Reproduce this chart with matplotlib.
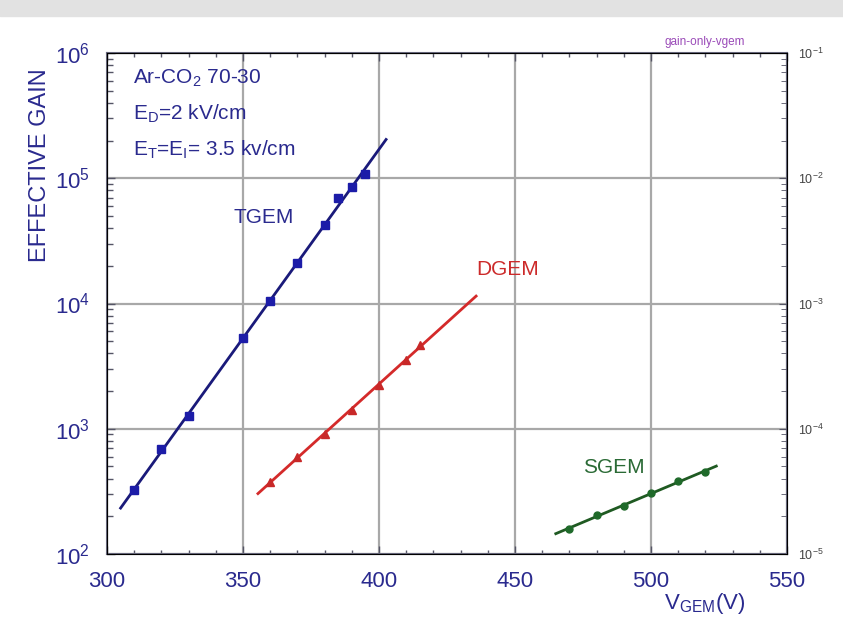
import numpy as np
import matplotlib
matplotlib.use("Agg")
import matplotlib.pyplot as plt
from matplotlib.ticker import FixedLocator, FuncFormatter, NullFormatter

plt.rcParams['font.family'] = ['Liberation Sans', 'DejaVu Sans']
plt.rcParams['mathtext.fontset'] = 'custom'
plt.rcParams['mathtext.rm'] = 'Liberation Sans'
plt.rcParams['mathtext.it'] = 'Liberation Sans'
plt.rcParams['mathtext.bf'] = 'Liberation Sans:bold'

# Data
tgem_v = [310, 320, 330, 350, 360, 370, 380, 385, 390, 395]
tgem_g = [324, 689, 1264, 5300, 10470, 21000, 42300, 69500, 85100, 108000]
tgem_fit_range = [305, 402.6]

dgem_v = [360, 370, 380, 390, 400, 410, 415]
dgem_g = [376, 597, 908, 1412, 2235, 3540, 4665]
dgem_fit_range = [355.5, 435.7]

sgem_v = [470, 480, 490, 500, 510, 520]
sgem_g = [158, 205, 242, 307, 383, 452]
sgem_fit_range = [465, 524]

xticks = [300, 350, 400, 450, 500, 550]

NAVY = '#2a2a8e'
fig = plt.figure(figsize=(8.43, 6.24), dpi=100)
ax = fig.add_axes([107/843, 1-554/624, 680/843, 501/624])

def fitline(v, g, rng):
    p = np.polyfit(v, np.log10(g), 1)
    xs = np.array(rng)
    return xs, 10**np.polyval(p, xs)

series = [
    (tgem_v, tgem_g, tgem_fit_range, '#1a1a7a', '#1c1ca8', 's', 6),
    (dgem_v, dgem_g, dgem_fit_range, '#d42a2a', '#c82828', '^', 6),
    (sgem_v, sgem_g, sgem_fit_range, '#1f5a22', '#1f6a2a', 'o', 5),
]
for v, g, rng, lc, mc, mk, ms in series:
    xs, ys = fitline(v, g, rng)
    ax.plot(xs, ys, color=lc, lw=2, zorder=3)
    ax.plot(v, g, linestyle='none', marker=mk, color=mc, ms=ms, zorder=4)

ax.set_yscale('log')
ax.set_xlim(300, 550)
ax.set_ylim(1e2, 1e6)
ax.xaxis.set_major_locator(FixedLocator(xticks))
ax.xaxis.set_minor_locator(FixedLocator(np.arange(300, 551, 10)))
ax.grid(True, which='major', color='#a8a8a8', lw=1.6, zorder=1)
ax.set_axisbelow(True)
ax.yaxis.set_major_formatter(FuncFormatter(lambda y, p: r'$10^{%d}$' % round(np.log10(y))))
ax.yaxis.set_minor_formatter(NullFormatter())
ax.tick_params(axis='both', which='both', direction='in', top=True, right=False,
               colors='#555566', labelcolor=NAVY, labelsize=16)
ax.tick_params(axis='x', which='major', length=6, width=1, pad=12)
ax.tick_params(axis='x', which='minor', length=3, width=1)
ax.tick_params(axis='y', which='major', length=6, width=1, pad=12)
ax.tick_params(axis='y', which='minor', length=4, width=1)
for s in ax.spines.values():
    s.set_color('#6a6a80')
    s.set_linewidth(1.5)

ax2 = ax.twinx()
ax2.set_yscale('log')
ax2.set_ylim(1e-5, 1e-1)
ax2.yaxis.set_major_formatter(FuncFormatter(lambda y, p: r'$10^{%d}$' % round(np.log10(y))))
ax2.yaxis.set_minor_formatter(NullFormatter())
ax2.tick_params(axis='y', which='both', direction='in', colors='#555566',
                labelcolor='#444444', labelsize=9, pad=8)
ax2.tick_params(axis='y', which='major', length=6)
ax2.tick_params(axis='y', which='minor', length=4)

# annotations
ax.text(309.5, 10**5.80, r'Ar-CO$_2$ 70-30', color=NAVY, fontsize=15, va='center')
ax.text(309.5, 10**5.513, r'E$_D$=2 kV/cm', color=NAVY, fontsize=15, va='center')
ax.text(309.5, 10**5.226, r'E$_T$=E$_I$= 3.5 kv/cm', color=NAVY, fontsize=15, va='center')
ax.text(357.7, 10**4.69, 'TGEM', color=NAVY, fontsize=15, va='center', ha='center')
ax.text(447.4, 10**4.27, 'DGEM', color='#cc2a2a', fontsize=15, va='center', ha='center')
ax.text(486.4, 10**2.69, 'SGEM', color='#2a6a35', fontsize=15, va='center', ha='center')

fig.text(40/843, 1-165/624, 'EFFECTIVE GAIN', rotation=90, color=NAVY, fontsize=17,
         ha='center', va='center')
fig.text(705/843, 1-603/624, r'V$_{\rm GEM}$(V)', color=NAVY, fontsize=16,
         ha='center', va='center')
fig.text(705/843, 1-42/624, 'gain-only-vgem', color='#9a4ab8', fontsize=8.5,
         ha='center', va='center')

# faint top band
fig.patches.append(matplotlib.patches.Rectangle((0, 1-16/624), 1, 16/624,
                   transform=fig.transFigure, color='#e2e2e2', zorder=0))

fig.savefig('out.png', dpi=100)
